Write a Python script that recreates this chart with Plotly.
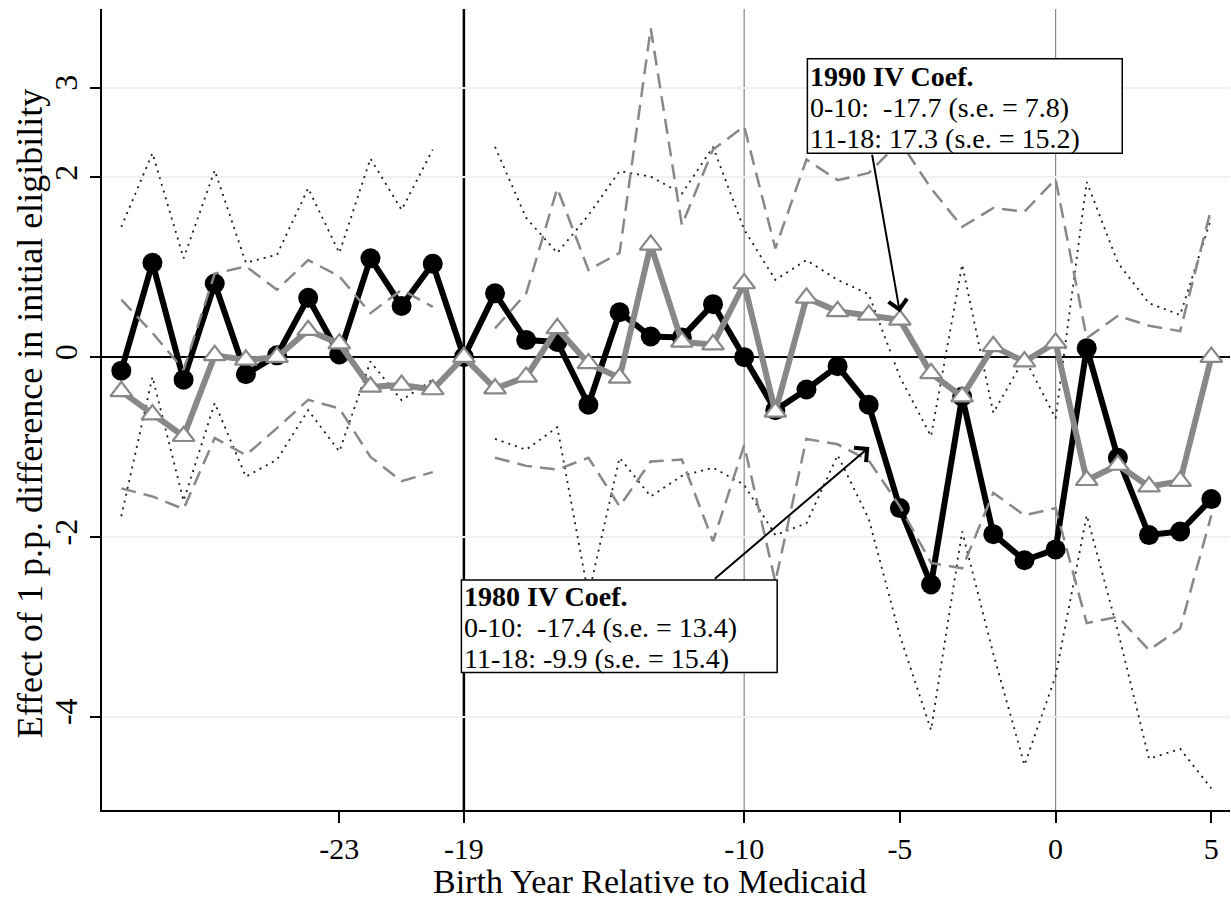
import plotly.graph_objects as go

# ---------------- data ----------------
years = [-30, -29, -28, -27, -26, -25, -24, -23, -22, -21, -20, -19,
         -18, -17, -16, -15, -14, -13, -12, -11, -10, -9, -8, -7,
         -6, -5, -4, -3, -2, -1, 0, 1, 2, 3, 4, 5]

coef_1980 = [-0.15, 1.05, -0.25, 0.82, -0.19, 0.02, 0.66, 0.03, 1.10, 0.57, 1.04, 0.00,
             0.71, 0.19, 0.17, -0.53, 0.50, 0.23, 0.22, 0.59, 0.00, -0.59, -0.36, -0.10,
             -0.53, -1.68, -2.53, -0.44, -1.97, -2.26, -2.14, 0.10, -1.12, -1.98, -1.94, -1.58]

ci_1980_hi = [1.45, 2.27, 1.10, 2.08, 1.05, 1.14, 1.88, 1.16, 2.21, 1.64, 2.31, None,
              2.34, 1.55, 1.16, 1.58, 2.07, 2.01, 1.82, 2.34, 1.42, 0.86, 1.08, 0.86,
              0.70, -0.22, -0.88, 1.03, -0.62, -0.01, -0.68, 1.95, 1.05, 0.60, 0.47, 1.55]

ci_1980_lo = [-1.77, -0.22, -1.60, -0.51, -1.33, -1.14, -0.59, -1.05, -0.05, -0.48, -0.25, None,
              -0.91, -1.03, -0.78, -2.65, -1.12, -1.55, -1.32, -1.23, -1.42, -1.98, -1.85, -1.09,
              -1.80, -3.10, -4.15, -1.94, -3.30, -4.54, -3.55, -1.76, -3.05, -4.47, -4.36, -4.80]

coef_1990 = [-0.38, -0.64, -0.88, 0.02, -0.03, 0.00, 0.30, 0.15, -0.33, -0.31, -0.36, 0.00,
             -0.35, -0.22, 0.32, -0.07, -0.23, 1.25, 0.17, 0.14, 0.82, -0.61, 0.66, 0.51,
             0.47, 0.415, -0.18, -0.44, 0.12, -0.05, 0.16, -1.37, -1.20, -1.44, -1.38, 0.00]

ci_1990_hi = [0.64, 0.27, -0.14, 0.93, 1.01, 0.75, 1.08, 0.90, 0.49, 0.75, 0.56, None,
              0.32, 0.71, 1.88, 0.97, 1.16, 3.66, 1.47, 2.31, 2.57, 1.21, 2.20, 1.97,
              2.05, 2.40, 1.88, 1.45, 1.66, 1.62, 1.98, 0.21, 0.46, 0.35, 0.29, 1.66]

ci_1990_lo = [-1.46, -1.55, -1.69, -0.90, -1.09, -0.79, -0.475, -0.57, -1.11, -1.38, -1.28, None,
              -1.12, -1.21, -1.25, -1.12, -1.66, -1.16, -1.14, -2.05, -0.98, -2.50, -0.91, -0.97,
              -1.15, -1.66, -2.29, -2.35, -1.51, -1.76, -1.68, -2.96, -2.89, -3.26, -3.02, -1.76]

x_ticks = [-23, -19, -10, -5, 0, 5]
x_tick_labels = ["-23", "-19", "-10", "-5", "0", "5"]
y_ticks = [3, 2, 0, -2, -4]
y_tick_labels = ["3", "2", "0", "-2", "-4"]
ref_years = [-19, -10, 0]

box_1990 = ["<b>1990 IV Coef.</b>",
            "0-10:\u00a0 -17.7 (s.e. = 7.8)",
            "11-18: 17.3 (s.e. = 15.2)"]
box_1980 = ["<b>1980 IV Coef.</b>",
            "0-10:\u00a0 -17.4 (s.e. = 13.4)",
            "11-18: -9.9 (s.e. = 15.4)"]

FONT = "Liberation Serif"
GRAY = "#888888"

fig = go.Figure()

# 1980 coefficients (black)
fig.add_trace(go.Scatter(x=years, y=coef_1980, mode="lines+markers",
                         line=dict(color="black", width=6),
                         marker=dict(symbol="circle", size=20, color="black"),
                         hoverinfo="skip"))
# 1980 CI (dotted)
for ci in (ci_1980_hi, ci_1980_lo):
    fig.add_trace(go.Scatter(x=years, y=ci, mode="lines", connectgaps=False,
                             line=dict(color="#1a1a1a", width=1.8, dash="2px,5px"),
                             hoverinfo="skip"))
# 1990 CI (dashed gray)
for ci in (ci_1990_hi, ci_1990_lo):
    fig.add_trace(go.Scatter(x=years, y=ci, mode="lines", connectgaps=False,
                             line=dict(color=GRAY, width=2.5, dash="15px,8px"),
                             hoverinfo="skip"))
# 1990 coefficients (gray, hollow triangles)
fig.add_trace(go.Scatter(x=years, y=coef_1990, mode="lines+markers",
                         line=dict(color=GRAY, width=6),
                         marker=dict(symbol="triangle-up", size=19, color="white",
                                     line=dict(color=GRAY, width=2.2)),
                         hoverinfo="skip"))

shapes = []
for yr in ref_years:
    shapes.append(dict(type="line", xref="x", yref="paper", x0=yr, x1=yr, y0=0, y1=1,
                       line=dict(color="black" if yr == -19 else GRAY,
                                 width=2.5 if yr == -19 else 1.2),
                       layer="between"))
# annotation boxes
shapes.append(dict(type="rect", xref="x", yref="y", x0=-7.97, x1=2.14, y0=2.27, y1=3.32,
                   fillcolor="white", line=dict(color="black", width=1.5), layer="above"))
shapes.append(dict(type="rect", xref="x", yref="y", x0=-19.08, x1=-8.94, y0=-3.51, y1=-2.48,
                   fillcolor="white", line=dict(color="black", width=1.5), layer="above"))

annotations = []
for txt, yy in zip(box_1990, [3.125, 2.780, 2.435]):
    annotations.append(dict(x=-7.91, y=yy, xref="x", yref="y", text=txt, showarrow=False,
                            xanchor="left", yanchor="middle", borderpad=0,
                            font=dict(family=FONT, size=28, color="black")))
for txt, yy in zip(box_1980, [-2.660, -3.005, -3.350]):
    annotations.append(dict(x=-19.03, y=yy, xref="x", yref="y", text=txt, showarrow=False,
                            xanchor="left", yanchor="middle", borderpad=0,
                            font=dict(family=FONT, size=28, color="black")))
# arrows
annotations.append(dict(x=-5.0, y=0.50, ax=-5.9, ay=2.27, xref="x", yref="y",
                        axref="x", ayref="y", text="", showarrow=True,
                        arrowhead=4, arrowsize=1.8, arrowwidth=2, arrowcolor="black",
                        standoff=0, startstandoff=0))
annotations.append(dict(x=-5.98, y=-1.0, ax=-10.99, ay=-2.48, xref="x", yref="y",
                        axref="x", ayref="y", text="", showarrow=True,
                        arrowhead=4, arrowsize=1.8, arrowwidth=2, arrowcolor="black",
                        standoff=0, startstandoff=0))
# axis titles
annotations.append(dict(x=0.4858, y=-0.0897, xref="paper", yref="paper",
                        text="Birth Year Relative to Medicaid", showarrow=False,
                        xanchor="center", yanchor="middle",
                        font=dict(family=FONT, size=34, color="black")))
annotations.append(dict(x=-0.0638, y=0.494, xref="paper", yref="paper",
                        text="Effect of 1 p.p. difference in initial eligibility",
                        showarrow=False, textangle=-90, xanchor="center", yanchor="middle",
                        font=dict(family=FONT, size=36, color="black")))

fig.update_layout(
    width=1231, height=901,
    margin=dict(l=102, r=1, t=9, b=91),
    paper_bgcolor="white", plot_bgcolor="white",
    showlegend=False,
    shapes=shapes, annotations=annotations,
    xaxis=dict(range=[-30.62, 5.60], tickvals=x_ticks, ticktext=x_tick_labels,
               ticks="outside", ticklen=11,
               tickwidth=1.5, tickcolor="black", showline=True, linecolor="black",
               linewidth=1.5, showgrid=False, zeroline=False,
               tickfont=dict(family=FONT, size=30, color="black")),
    yaxis=dict(range=[-5.04, 3.875], tickvals=y_ticks, ticktext=y_tick_labels,
               tickangle=-90, ticks="outside",
               ticklen=10, tickwidth=1.5, tickcolor="black", showline=True,
               linecolor="black", linewidth=1.5, showgrid=True, gridcolor="#eaf2f3",
               gridwidth=2, zeroline=True, zerolinecolor="black", zerolinewidth=2,
               tickfont=dict(family=FONT, size=32, color="black")),
)

fig.write_html("out.html")
